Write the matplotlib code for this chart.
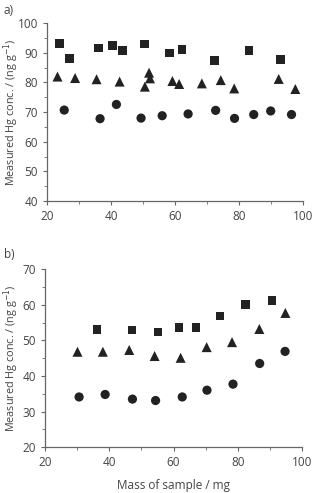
import matplotlib
matplotlib.use("Agg")
import matplotlib.pyplot as plt
from matplotlib.ticker import MultipleLocator

plt.rcParams["font.family"] = ["Open Sans", "DejaVu Sans"]

# panel a) data
a_sq_x = [24, 27.1, 36.1, 40.4, 43.6, 50.4, 58.3, 62.2, 72.4, 83.1, 92.9]
a_sq_y = [93.1, 88.1, 91.6, 92.5, 90.7, 93.0, 89.9, 91.2, 87.5, 90.8, 87.8]
a_tri_x = [23.3, 28.8, 35.5, 42.7, 50.6, 51.9, 52.2, 59.2, 61.3, 68.4, 74.3, 78.5, 92.4, 97.6]
a_tri_y = [82.0, 81.5, 81.1, 80.3, 78.6, 83.3, 81.4, 80.5, 79.5, 79.7, 80.8, 78.0, 81.2, 77.8]
a_cir_x = [25.4, 36.6, 41.7, 49.4, 56.0, 64.1, 72.7, 78.6, 84.6, 89.9, 96.4]
a_cir_y = [70.7, 67.8, 72.6, 68.0, 68.8, 69.4, 70.6, 67.9, 69.2, 70.4, 69.2]

# panel b) data
b_sq_x = [36.2, 47.0, 55.1, 61.7, 67.0, 74.4, 82.4, 90.6]
b_sq_y = [53.1, 52.9, 52.3, 53.6, 53.6, 56.9, 60.0, 61.2]
b_tri_x = [30.1, 38.0, 46.2, 54.1, 62.2, 70.3, 78.2, 86.7, 94.8]
b_tri_y = [46.8, 46.8, 47.3, 45.6, 45.1, 48.1, 49.5, 53.2, 57.7]
b_cir_x = [30.6, 38.7, 47.2, 54.4, 62.7, 70.4, 78.5, 86.8, 94.7]
b_cir_y = [34.1, 34.8, 33.5, 33.1, 34.1, 36.0, 37.7, 43.5, 46.9]

mk = "#222222"
txt = "#444444"
ylab = "Measured Hg conc. / (ng g$^{-1}$)"

fig = plt.figure(figsize=(3.15, 4.93), dpi=100)
ax1 = fig.add_axes([0.149, 0.592, 0.813, 0.361])
ax2 = fig.add_axes([0.143, 0.093, 0.816, 0.361])


def style(ax, ylim, ystep):
    ax.set_xlim(20, 100)
    ax.set_ylim(*ylim)
    ax.xaxis.set_major_locator(MultipleLocator(20))
    ax.xaxis.set_minor_locator(MultipleLocator(10))
    ax.yaxis.set_major_locator(MultipleLocator(ystep))
    ax.yaxis.set_minor_locator(MultipleLocator(ystep / 2))
    for s in ["top", "right"]:
        ax.spines[s].set_visible(False)
    for s in ["left", "bottom"]:
        ax.spines[s].set_color("#666666")
        ax.spines[s].set_linewidth(0.9)
    ax.tick_params(which="both", direction="out", color="#666666", labelcolor=txt,
                   labelsize=8.5)
    ax.tick_params(which="major", length=3)
    ax.tick_params(which="minor", length=2)
    ax.set_ylabel(ylab, color=txt, fontsize=7.8, va="center")


for ax, sq, tri, cir in [(ax1, (a_sq_x, a_sq_y), (a_tri_x, a_tri_y), (a_cir_x, a_cir_y)),
                         (ax2, (b_sq_x, b_sq_y), (b_tri_x, b_tri_y), (b_cir_x, b_cir_y))]:
    ax.scatter(*sq, marker="s", s=38, color=mk, edgecolors="none", clip_on=False)
    ax.scatter(*tri, marker="^", s=52, color=mk, edgecolors="none", clip_on=False)
    ax.scatter(*cir, marker="o", s=44, color=mk, edgecolors="none", clip_on=False)

style(ax1, (40, 100), 10)
style(ax2, (20, 70), 10)
ax1.yaxis.set_label_coords(-0.14, 0.5)
ax2.yaxis.set_label_coords(-0.132, 0.5)
ax2.set_xlabel("Mass of sample / mg", color=txt, fontsize=8.5, labelpad=7)

fig.text(0.012, 0.978, "a)", color=txt, fontsize=8.5, va="center")
fig.text(0.012, 0.484, "b)", color=txt, fontsize=8.5, va="center")

fig.savefig("out.png", dpi=100)
